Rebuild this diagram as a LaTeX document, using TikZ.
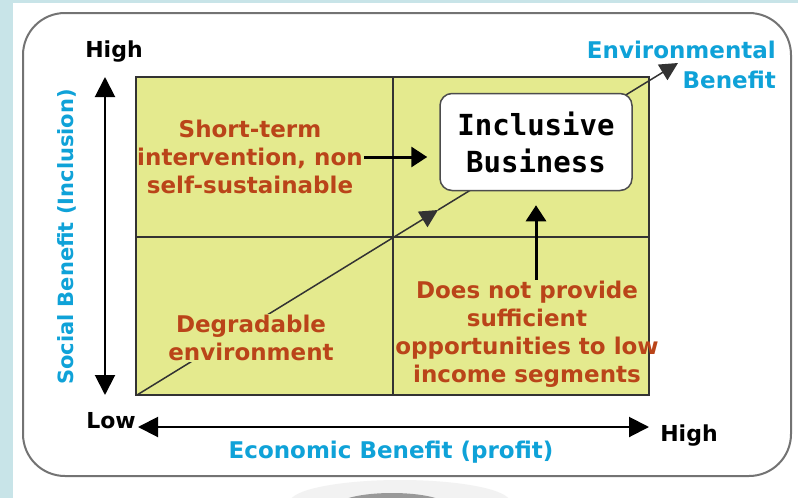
\documentclass[tikz,border=0pt]{standalone}
\usepackage{fontspec}
\setmainfont{DejaVu Sans}
\newfontfamily\boxfont{DejaVu Sans Mono}
\usetikzlibrary{arrows.meta}
\definecolor{bgcyan}{HTML}{C8E4E8}
\definecolor{gridfill}{HTML}{E4EA8E}
\definecolor{labelred}{HTML}{BA4419}
\definecolor{axisblue}{HTML}{0FA2D8}

\begin{document}
\begin{tikzpicture}[x=1pt, y=-1pt,
    quadrant/.style={draw=black!80, line width=2pt, fill=gridfill},
    divider/.style={draw=black!80, line width=2pt},
    axis/.style={line width=2pt, {Triangle[length=20pt,width=20pt]}-{Triangle[length=20pt,width=20pt]}},
    pointer/.style={line width=3pt, -{Triangle[length=16pt,width=20pt]}},
    diag/.style={line width=1.5pt, draw=black!80, -{Triangle[length=18pt,width=18pt]}},
    note/.style={text=labelred, font=\bfseries\fontsize{23}{28}\selectfont, align=center, inner sep=1pt},
    axislabel/.style={text=axisblue, font=\bfseries\fontsize{23}{30}\selectfont, inner sep=0pt},
    endlabel/.style={font=\bfseries\fontsize{22}{24}\selectfont, inner sep=0pt},
    target/.style={draw=black!70, line width=1.5pt, fill=white, rounded corners=12pt,
        minimum width=192pt, minimum height=97pt, align=center,
        font=\boxfont\bfseries\fontsize{29}{37}\selectfont}
]
    \clip (0,0) rectangle (798,498);
    \fill[bgcyan] (0,0) rectangle (798,498);
    \fill[white] (13,3) rectangle (798,498);
    \fill[black!5] (400,502) ellipse [x radius=110, y radius=22];
    \fill[black!40] (392,506) ellipse [x radius=55, y radius=13];
    \draw[black!55, line width=2pt, rounded corners=42pt] (23,13) rectangle (791,476);

    \draw[quadrant] (136,77) rectangle (649,395);
    \draw[divider] (393,77) -- (393,395);
    \draw[divider] (136,237) -- (649,237);

    \coordinate (origin) at (137,395);
    \coordinate (midtip) at (438,210);
    \coordinate (envtip) at (678,63);
    \coordinate (ytop) at (105,77);
    \coordinate (ybot) at (105,395);
    \coordinate (xleft) at (138,427);
    \coordinate (xright) at (649,427);

    \draw[axis] (ybot) -- (ytop);
    \draw[axis] (xleft) -- (xright);
    \draw[diag] (origin) -- (midtip);
    \draw[diag] (midtip) -- (envtip);

    \node[endlabel] (yhigh) at (114,52) {High};
    \node[endlabel] (ylow) at (111,421) {Low};
    \node[endlabel] (xhigh) at (689,436) {High};
    \node[axislabel] (xname) at (391,452) {Economic Benefit (profit)};
    \node[axislabel, rotate=90, font=\bfseries\fontsize{21}{30}\selectfont] (yname) at (67,237) {Social Benefit (Inclusion)};
    \node[axislabel, align=right, anchor=east] (envname) at (776,65) {Environmental\\Benefit};

    \node[target] (ib) at (536,142) {Inclusive\\Business};
    \node[note] (shortterm) at (250,157) {Short-term\\intervention, non\\self-sustainable};
    \node[note, fill=gridfill] (degrade) at (251,338) {Degradable\\environment};
    \node[note] (lowincome) at (527,334) {Does not provide\\sufficient\\opportunities to low\\income segments};

    \draw[pointer, shorten >=12pt] (shortterm.east) -- (shortterm.east -| ib.west);
    \draw[pointer, shorten >=14pt] (lowincome.north -| ib.south) -- (ib.south);
\end{tikzpicture}
\end{document}
